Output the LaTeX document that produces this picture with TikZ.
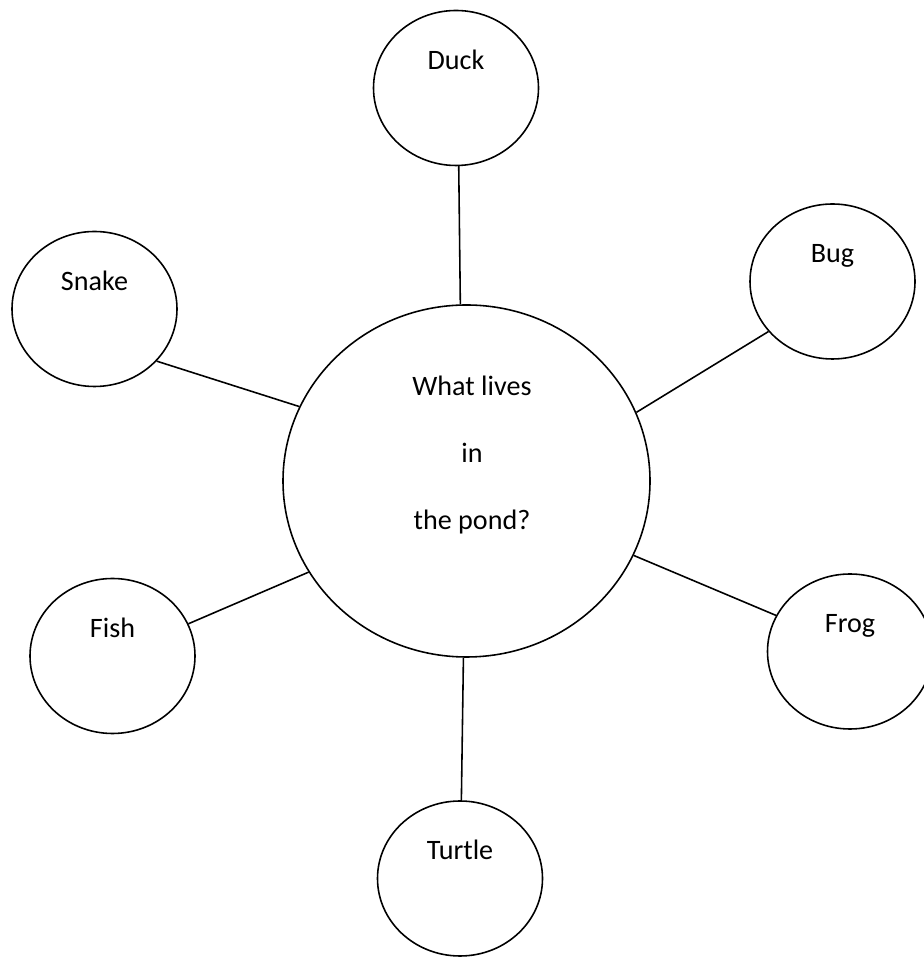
\documentclass[tikz,border=0pt]{standalone}
\usepackage{fontspec}
\setmainfont{Carlito}
\usetikzlibrary{shapes.geometric}

\begin{document}
\begin{tikzpicture}[bubble/.style={ellipse, draw=black, line width=0.9pt, inner sep=0pt, minimum width=3.3cm, minimum height=3.1cm},
	word/.style={anchor=base, inner sep=0pt, font=\fontsize{16}{19}\selectfont},
	link/.style={black, line width=0.9pt}]
		\useasboundingbox (0,0) rectangle (18.48,19.14);

		% centre question
		\node (pond) at (9.33,9.52) [bubble, minimum width=7.34cm, minimum height=7.04cm] {};
		\node (ask1) at (9.44,11.22) [word] {What lives};
		\node (ask2) at (9.44,9.88) [word] {in};
		\node (ask3) at (9.44,8.54) [word] {the pond?};

		% animals
		\node (duck)   at (9.12,17.38) [bubble] {};
		\node (snake)  at (1.89,12.96) [bubble] {};
		\node (bug)    at (16.65,13.51) [bubble] {};
		\node (fish)   at (2.25,6.02)  [bubble] {};
		\node (frog)   at (17.0,6.11)  [bubble] {};
		\node (turtle) at (9.2,1.57)   [bubble] {};

		\node (duck-t)   at ([yshift=3.7mm]duck.center)   [word] {Duck};
		\node (snake-t)  at ([yshift=3.7mm]snake.center)  [word] {Snake};
		\node (bug-t)    at ([yshift=3.7mm]bug.center)    [word] {Bug};
		\node (fish-t)   at ([yshift=3.7mm]fish.center)   [word] {Fish};
		\node (frog-t)   at ([yshift=3.7mm]frog.center)   [word] {Frog};
		\node (turtle-t) at ([yshift=3.7mm]turtle.center) [word] {Turtle};

		\draw [link] (duck.-88.5) -- (pond.92.8);
		\draw [link] (snake.-40.6) -- (pond.156.3);
		\draw [link] (bug.-142.4) -- (pond.22.8);
		\draw [link] (fish.23.4) -- (pond.210.7);
		\draw [link] (pond.-24.7) -- (frog.154);
		\draw [link] (pond.-91.8) -- (turtle.89.3);
	\end{tikzpicture}
\end{document}
